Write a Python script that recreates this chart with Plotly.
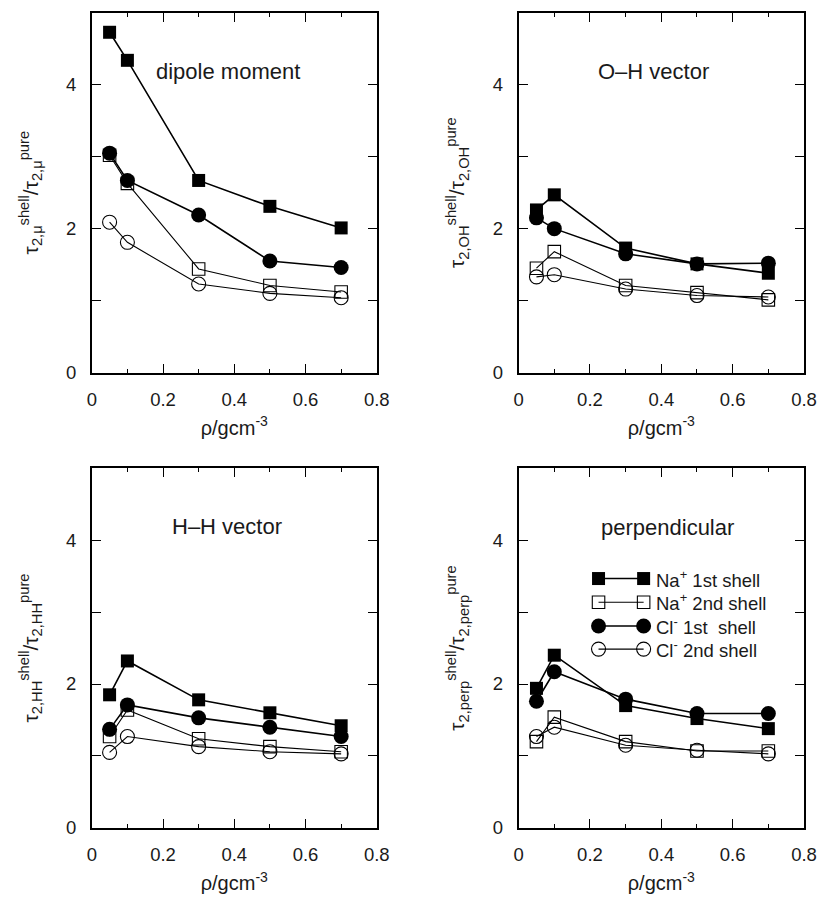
import plotly.graph_objects as go

# ---------------- data ----------------
density = [0.05, 0.1, 0.3, 0.5, 0.7]

series_names = ["Na<sup>+</sup> 1st shell", "Na<sup>+</sup> 2nd shell",
                "Cl<sup>-</sup> 1st  shell", "Cl<sup>-</sup> 2nd shell"]

# dipole moment
dip_na1 = [4.73, 4.34, 2.67, 2.31, 2.01]
dip_na2 = [3.02, 2.63, 1.44, 1.21, 1.12]
dip_cl1 = [3.05, 2.67, 2.19, 1.55, 1.46]
dip_cl2 = [2.09, 1.81, 1.23, 1.10, 1.04]

# O-H vector
oh_na1 = [2.26, 2.47, 1.73, 1.51, 1.38]
oh_na2 = [1.45, 1.68, 1.21, 1.11, 1.01]
oh_cl1 = [2.15, 2.00, 1.65, 1.51, 1.52]
oh_cl2 = [1.33, 1.36, 1.16, 1.07, 1.05]

# H-H vector
hh_na1 = [1.85, 2.32, 1.78, 1.60, 1.42]
hh_na2 = [1.27, 1.64, 1.24, 1.13, 1.06]
hh_cl1 = [1.37, 1.71, 1.53, 1.40, 1.27]
hh_cl2 = [1.05, 1.27, 1.13, 1.06, 1.03]

# perpendicular
pp_na1 = [1.94, 2.40, 1.70, 1.52, 1.38]
pp_na2 = [1.20, 1.54, 1.20, 1.07, 1.07]
pp_cl1 = [1.76, 2.17, 1.79, 1.59, 1.59]
pp_cl2 = [1.27, 1.40, 1.15, 1.08, 1.03]

panel_titles = ["dipole moment", "O\u2013H vector", "H\u2013H vector", "perpendicular"]
y_titles = [
    "\u03c4<sub>2,\u03bc</sub><sup>shell</sup>/\u03c4<sub>2,\u03bc</sub><sup>pure</sup>",
    "\u03c4<sub>2,OH</sub><sup>shell</sup>/\u03c4<sub>2,OH</sub><sup>pure</sup>",
    "\u03c4<sub>2,HH</sub><sup>shell</sup>/\u03c4<sub>2,HH</sub><sup>pure</sup>",
    "\u03c4<sub>2,perp</sub><sup>shell</sup>/\u03c4<sub>2,perp</sub><sup>pure</sup>",
]
x_title = "\u03c1/gcm<sup>-3</sup>"
x_ticks = [0, 0.2, 0.4, 0.6, 0.8]
x_ticklabels = ["0", "0.2", "0.4", "0.6", "0.8"]
y_ticks = [0, 2, 4]
y_ticklabels = ["0", "2", "4"]

panels = [
    [dip_na1, dip_na2, dip_cl1, dip_cl2],
    [oh_na1, oh_na2, oh_cl1, oh_cl2],
    [hh_na1, hh_na2, hh_cl1, hh_cl2],
    [pp_na1, pp_na2, pp_cl1, pp_cl2],
]

# ---------------- styles ----------------
FONT = "Liberation Sans, Arial, Helvetica, sans-serif"
TXT = "#1a1a1a"
styles = [
    dict(symbol="square", size=13, lw=1.6, mlw=0),
    dict(symbol="square-open", size=12.5, lw=1.1, mlw=1.1),
    dict(symbol="circle", size=15, lw=1.6, mlw=0),
    dict(symbol="circle-open", size=14, lw=1.1, mlw=1.1),
]

W, H = 831, 899
xdoms = [(88.7 / W, 380.0 / W), (525.0 / W, 816.7 / W)]
ydoms = [(1 - 376.7 / H, 1 - 13.0 / H), (1 - 837.3 / H, 1 - 473.3 / H)]

fig = go.Figure()

draw_order = [3, 1, 2, 0]
for p, data in enumerate(panels):
    ax = "" if p == 0 else str(p + 1)
    for s in draw_order:
        st = styles[s]
        fig.add_trace(go.Scatter(
            x=density, y=data[s], mode="lines+markers",
            name=series_names[s], showlegend=False,
            line=dict(color="black", width=st["lw"]),
            marker=dict(symbol=st["symbol"], size=st["size"], color="black",
                        line=dict(color="black", width=st["mlw"])),
            xaxis="x" + ax, yaxis="y" + ax, cliponaxis=False,
        ))

layout = dict(
    width=W, height=H,
    margin=dict(l=0, r=0, t=0, b=0),
    paper_bgcolor="white", plot_bgcolor="white",
    font=dict(family=FONT, color=TXT, size=18),
    showlegend=False,
)

annotations = []
shapes = []
title_pos = [(0.478, 0.838), (0.473, 0.838), (0.474, 0.837), (0.52, 0.835)]
for p in range(4):
    r, c = divmod(p, 2)
    ax = "" if p == 0 else str(p + 1)
    layout["xaxis" + ax] = dict(
        domain=list(xdoms[c]), anchor="y" + ax, range=[0, 0.8],
        tickvals=x_ticks, ticktext=x_ticklabels,
        ticks="inside", ticklen=9, tickwidth=1.2, tickcolor="black",
        minor=dict(dtick=0.1, tick0=0, ticks="inside", ticklen=4, tickwidth=1.2, tickcolor="black"),
        showline=True, linecolor="black", linewidth=1.8, mirror="ticks",
        showgrid=False, zeroline=False, ticklabelstandoff=9,
        tickfont=dict(size=18.5, family=FONT, color=TXT),
        title=dict(text=x_title, font=dict(size=20, family=FONT, color=TXT), standoff=12),
    )
    layout["yaxis" + ax] = dict(
        domain=list(ydoms[r]), anchor="x" + ax, range=[0, 5],
        tickvals=y_ticks, ticktext=y_ticklabels,
        ticks="inside", ticklen=9, tickwidth=1.2, tickcolor="black",
        minor=dict(dtick=1, tick0=0, ticks="inside", ticklen=9, tickwidth=1.2, tickcolor="black"),
        showline=True, linecolor="black", linewidth=1.8, mirror="ticks",
        showgrid=False, zeroline=False, ticklabelstandoff=10,
        tickfont=dict(size=18.5, family=FONT, color=TXT),
        title=dict(text=y_titles[p], font=dict(size=21, family=FONT, color=TXT), standoff=22),
    )
    tx, ty = title_pos[p]
    annotations.append(dict(
        text=panel_titles[p], xref="x" + ax + " domain", yref="y" + ax + " domain",
        x=tx, y=ty, showarrow=False, xanchor="center", yanchor="middle",
        font=dict(size=22, family=FONT, color=TXT),
    ))

# legend drawn inside the "perpendicular" panel
lx0, lx1 = 0.28, 0.438
ltext = 0.475
lrows = [0.693, 0.627, 0.561, 0.497]
xr, yr = "x4 domain", "y4 domain"
for s, yy in enumerate(lrows):
    st = styles[s]
    shapes.append(dict(type="line", xref=xr, yref=yr, x0=lx0, x1=lx1, y0=yy, y1=yy,
                       line=dict(color="black", width=st["lw"])))
    half = st["size"] / 2
    for xx in (lx0, lx1):
        filled = not st["symbol"].endswith("open")
        kind = "rect" if st["symbol"].startswith("square") else "circle"
        shapes.append(dict(
            type=kind, xref=xr, yref=yr, xsizemode="pixel", ysizemode="pixel",
            xanchor=xx, yanchor=yy, x0=-half, x1=half, y0=-half, y1=half,
            fillcolor="black" if filled else "rgba(0,0,0,0)",
            line=dict(color="black", width=0 if filled else 1.1),
        ))
    annotations.append(dict(
        text=series_names[s], xref=xr, yref=yr, x=ltext, y=yy,
        xanchor="left", yanchor="middle", showarrow=False,
        font=dict(size=18.5, family=FONT, color=TXT),
    ))

layout["annotations"] = annotations
layout["shapes"] = shapes
fig.update_layout(**layout)

fig.write_html("out.html")
